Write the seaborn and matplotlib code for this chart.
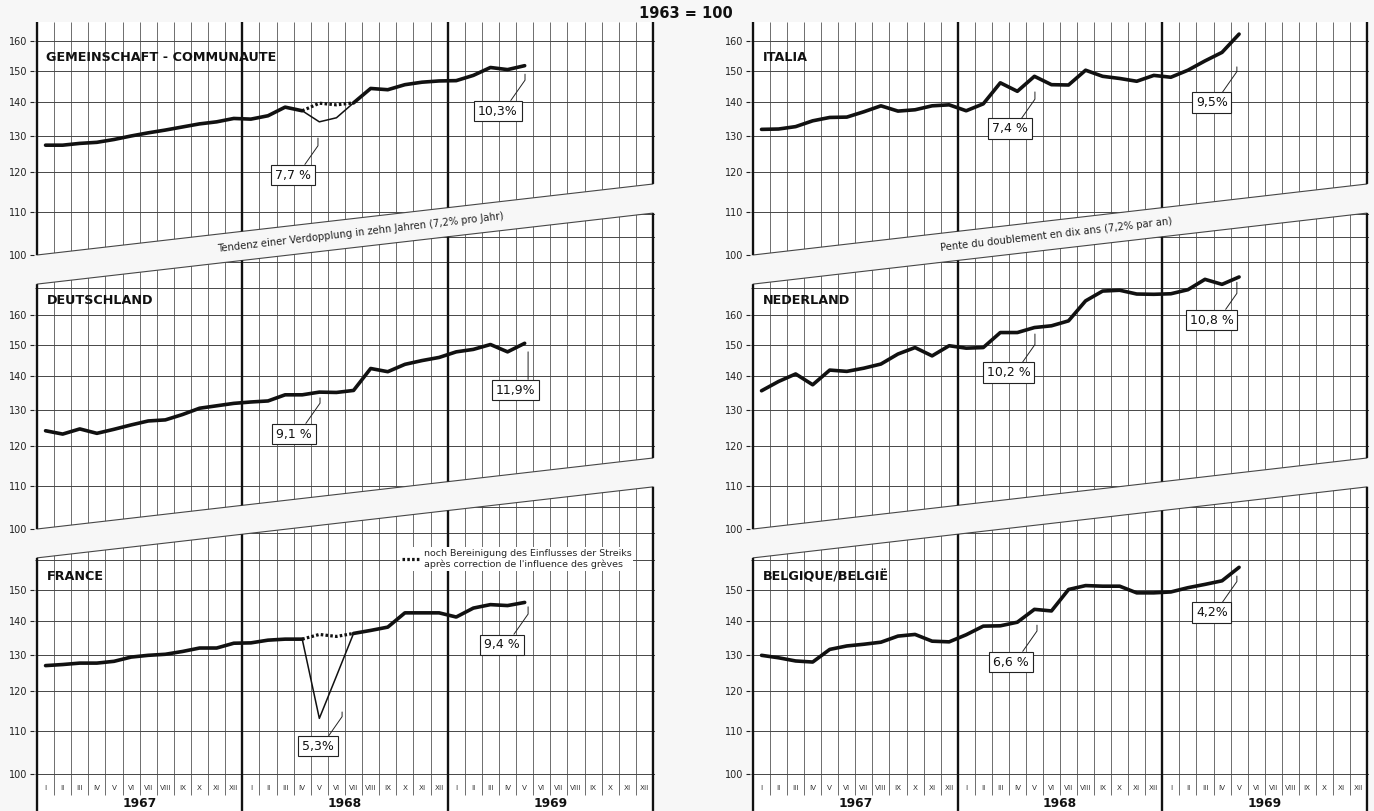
import numpy as np
import pandas as pd
import matplotlib.pyplot as plt
import seaborn as sns
from matplotlib.patches import Polygon
from matplotlib.lines import Line2D
from matplotlib.ticker import FixedLocator, FixedFormatter, NullLocator

nan = np.nan

# Month / year labels
months = ['I', 'II', 'III', 'IV', 'V', 'VI', 'VII', 'VIII', 'IX', 'X', 'XI', 'XII']
years = ['1967', '1968', '1969']

# Index 1963 = 100, monthly I-1967 .. V-1969
gemeinschaft = [127.3, 127.3, 127.8, 128.1, 128.9, 129.9, 130.8, 131.6, 132.5, 133.4, 134.0, 135.0,
                134.8, 135.8, 138.4, 137.3, nan, nan, 139.7, 144.2, 143.8, 145.4, 146.2, 146.6,
                146.7, 148.4, 151.0, 150.3, 151.6]
gemeinschaft_strike = [137.3, 134.0, 135.2, 139.7]     # IV..VII 1968
gemeinschaft_adjusted = [137.3, 139.6, 139.1, 139.7]

deutschland = [124.1, 123.2, 124.6, 123.4, 124.5, 125.7, 126.8, 127.1, 128.6, 130.4, 131.1, 131.8,
               132.2, 132.5, 134.3, 134.3, 135.1, 135.0, 135.6, 142.3, 141.3, 143.6, 144.8, 145.8,
               147.6, 148.4, 150.0, 147.6, 150.4]

france = [126.9, 127.2, 127.6, 127.6, 128.1, 129.3, 129.8, 130.1, 130.9, 131.9, 131.9, 133.3,
          133.4, 134.2, 134.5, 134.5, nan, nan, 136.2, 137.1, 138.1, 142.5, 142.5, 142.5,
          141.2, 144.0, 145.1, 144.8, 145.8]
france_strike = [134.5, 113.0, 124.0, 136.2]
france_adjusted = [134.5, 135.9, 135.3, 136.2]

italia = [131.8, 131.9, 132.6, 134.3, 135.3, 135.4, 137.0, 138.8, 137.2, 137.6, 138.8, 139.1,
          137.3, 139.4, 146.0, 143.3, 148.1, 145.4, 145.3, 150.1, 148.1, 147.4, 146.5, 148.4,
          147.8, 150.1, 153.2, 156.1, 162.5]

nederland = [135.5, 138.3, 140.6, 137.3, 141.8, 141.4, 142.4, 143.7, 146.9, 149.0, 146.3, 149.6,
             148.8, 149.0, 154.0, 154.0, 155.7, 156.3, 158.0, 165.1, 168.7, 169.0, 167.6, 167.5,
             167.7, 169.2, 173.1, 171.2, 174.0]

belgique = [129.8, 129.1, 128.2, 127.9, 131.5, 132.5, 133.0, 133.6, 135.4, 135.9, 133.9, 133.7,
            135.8, 138.4, 138.5, 139.6, 143.6, 143.1, 150.0, 151.3, 151.1, 151.1, 148.9, 148.9,
            149.2, 150.6, 151.7, 152.9, 157.5]

titles = ['GEMEINSCHAFT - COMMUNAUTE', 'DEUTSCHLAND', 'FRANCE', 'ITALIA', 'NEDERLAND', 'BELGIQUE/BELGIË']
series = [gemeinschaft, deutschland, france, italia, nederland, belgique]
strike = {0: (gemeinschaft_strike, gemeinschaft_adjusted), 2: (france_strike, france_adjusted)}
callout_text = [['7,7 %', '10,3%'], ['9,1 %', '11,9%'], ['5,3%', '9,4 %'],
                ['7,4 %', '9,5%'], ['10,2 %', '10,8 %'], ['6,6 %', '4,2%']]
band_text = ['Tendenz einer Verdopplung in zehn Jahren (7,2% pro Jahr)',
             'Pente du doublement en dix ans (7,2% par an)']
legend_text = "noch Bereinigung des Einflusses der Streiks\naprès correction de l'influence des grèves"

# ---- layout (pixels of the 1374x811 picture) ----
W, H = 1374, 811
S = 455.0                      # px per unit of ln(index)
COL_X = [(37, 653), (753, 1367)]
ROW_Y100 = [255, 529, 774]
ROW_LIM = [(99.0, 167.0), (99.0, 201.0), (92.2, 189.0)]
ROW_TOP = [None, 171.3, 160.8]  # where the band above meets the left axis
TITLE_V = [154.4, 165.1, 154.2]
G = np.exp(71 / S)             # rise of the band over the 3 years
PAD = 0.2
GRID = '#474747'
INK = '#111111'

# callout box (x, v) and leader end (x, v), months from I-1967
callout_pos = [
    [(14.96, 119.2, 16.42, 129.3), (26.94, 137.2, 28.52, 148.8)],
    [(15.02, 123.2, 16.54, 133.4), (27.95, 135.7, 28.70, 147.6)],
    [(16.42, 106.3, 17.83, 114.6), (27.18, 132.8, 28.70, 144.4)],
    [(15.06, 132.0, 16.53, 143.1), (26.90, 139.8, 28.37, 151.2)],
    [(15.00, 141.0, 16.53, 153.5), (26.90, 158.3, 28.37, 172.0)],
    [(15.12, 127.9, 16.65, 138.7), (26.90, 142.6, 28.37, 154.5)],
]

sns.set_theme(style='white')
plt.rcParams['font.family'] = ['DejaVu Sans']

fig = plt.figure(figsize=(13.74, 8.11), dpi=100, facecolor='#f7f7f7')


def edge(v0, x):
    return v0 * G ** (x / 36)


def draw(ax, start, vals, **kw):
    vals = np.asarray(vals, float)
    x = np.arange(len(vals)) + start + 0.5
    idx = np.where(~np.isnan(vals))[0]
    for g in np.split(idx, np.where(np.diff(idx) > 1)[0] + 1):
        sns.lineplot(x=x[g], y=vals[g], ax=ax, estimator=None, sort=False, **kw)


dotted = dict(color=INK, linewidth=2.3, linestyle=(0, (0.8, 0.7)))

for i, vals in enumerate(series):
    col, row = i // 3, i % 3
    ax = fig.add_axes([0, 0, 1, 1])
    x0, x1 = COL_X[col]
    mw = (x1 - x0) / 36
    lo, hi = ROW_LIM[row]
    ytop = ROW_Y100[row] - S * np.log(hi / 100)
    ybot = ROW_Y100[row] - S * np.log(lo / 100)
    left, right = x0 - PAD * mw, x1 + PAD * mw
    ax.set_position([left / W, 1 - ybot / H, (right - left) / W, (ybot - ytop) / H])
    ax.set_yscale('log')
    ax.set_xlim(-PAD, 36 + PAD)
    ax.set_ylim(lo, hi)
    ax.set_autoscale_on(False)
    ax.patch.set_visible(False)
    for s in ax.spines.values():
        s.set_visible(False)

    # panel shape between the slanted bands
    xl, xr = -0.12, 36.12
    if row < 2:
        bl, br = edge(100, xl), edge(100, xr)
    else:
        bl = br = lo
    if row == 0:
        tl = tr = hi
    else:
        tl, tr = edge(ROW_TOP[row], xl), edge(ROW_TOP[row], xr)
    poly = Polygon([(xl, bl), (xr, br), (xr, tr), (xl, tl)], closed=True,
                   facecolor='white', edgecolor='none', zorder=0, transform=ax.transData)
    ax.add_patch(poly)
    if row < 2:
        ax.plot([0, 36], [100, edge(100, 36)], color=GRID, lw=0.8, zorder=1)
    if row > 0:
        ax.plot([0, 36], [ROW_TOP[row], edge(ROW_TOP[row], 36)], color=GRID, lw=0.8, zorder=1)

    # graph paper
    hl = ax.hlines(np.arange(100, 201, 10), xl, xr, colors=GRID, lw=0.7, zorder=1)
    thin = [k for k in range(1, 36) if k % 12]
    vl = ax.vlines(thin, 95.5 if row == 2 else lo, hi, colors=GRID, lw=0.55, zorder=1)
    tk = ax.vlines([0, 12, 24, 36], lo, hi, colors=INK, lw=1.7, zorder=2)
    for art in (hl, vl, tk):
        art.set_clip_path(poly)

    ticks = list(range(100, 170, 10)) if row < 2 else list(range(100, 160, 10))
    ax.yaxis.set_major_locator(FixedLocator(ticks))
    ax.yaxis.set_major_formatter(FixedFormatter([str(t) for t in ticks]))
    ax.yaxis.set_minor_locator(NullLocator())
    ax.tick_params(axis='y', which='major', left=True, direction='out', length=3, width=0.8,
                   pad=1.5, labelsize=7, colors='#222222')
    ax.set_xticks([])

    # data
    draw(ax, 0, vals, color=INK, linewidth=2.6, solid_joinstyle='round', solid_capstyle='round')
    if i in strike:
        actual, adjusted = strike[i]
        draw(ax, 15, actual, color=INK, linewidth=1.1)
        draw(ax, 15, adjusted, **dotted)
    ax.set_xlabel('')
    ax.set_ylabel('')

    ax.text(0.55, TITLE_V[row], titles[i], fontsize=9.2, weight='bold', ha='left', va='center', color=INK)

    for txt, (bx, bv, tx, tv) in zip(callout_text[i], callout_pos[i]):
        ax.annotate(txt, xy=(tx, tv), xytext=(bx, bv), ha='center', va='center', fontsize=9, color=INK,
                    bbox=dict(boxstyle='square,pad=0.3', fc='white', ec='#222222', lw=0.8),
                    arrowprops=dict(arrowstyle='-', color='#222222', lw=0.7, shrinkA=0, shrinkB=0,
                                    relpos=(0.75, 1.0),
                                    connectionstyle='angle,angleA=55,angleB=90,rad=0'),
                    zorder=5)

    if row == 0:
        p0 = ax.transData.transform((0, 100))
        p1 = ax.transData.transform((36, edge(100, 36)))
        ang = np.degrees(np.arctan2(p1[1] - p0[1], p1[0] - p0[0]))
        bxm = 18.9 if col == 0 else 17.8
        ax.text(bxm, edge(100, bxm) * np.exp(-14.5 / S), band_text[col], rotation=ang,
                rotation_mode='anchor', ha='center', va='center', fontsize=7.2, color='#222222')

    if row == 2:
        for yi, yr in enumerate(years):
            for mi, m in enumerate(months):
                ax.text(yi * 12 + mi + 0.5, 97.0, m, ha='center', va='center', fontsize=5.2, color='#333333')
            ax.text(yi * 12 + 6, 93.7, yr, ha='center', va='center', fontsize=8.8, weight='bold', color=INK)

    if i == 2:
        handle = Line2D([], [], **dotted)
        leg = ax.legend([handle], [legend_text], loc='upper left',
                        bbox_to_anchor=(400 / W, 1 - 547 / H), bbox_transform=fig.transFigure,
                        fontsize=6.8, frameon=True, facecolor='white', edgecolor='none', framealpha=1,
                        handlelength=2.0, handletextpad=0.3, borderpad=0.2, borderaxespad=0,
                        labelspacing=0.2)
        leg.set_zorder(6)

    ax.set_xlim(-PAD, 36 + PAD)
    ax.set_ylim(lo, hi)

fig.text(686 / W, 1 - 14 / H, '1963 = 100', ha='center', va='center', fontsize=10.5,
         weight='bold', color=INK)

fig.savefig('out.png', dpi=100, facecolor=fig.get_facecolor())
